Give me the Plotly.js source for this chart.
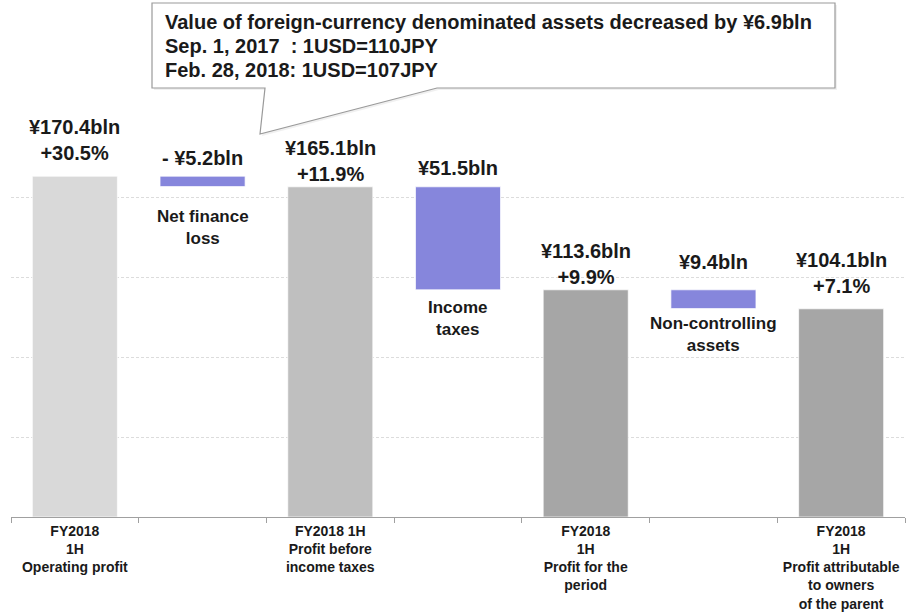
<!DOCTYPE html>
<html>
<head>
<meta charset="utf-8">
<script src="https://cdn.plot.ly/plotly-3.0.1.min.js"></script>
<style>html,body{margin:0;padding:0;background:#fff;}#chart{width:907px;height:615px;}</style>
</head>
<body>
<div id="chart"></div>
<script>
// ---- data ----
const categories = [
  "FY2018<br>1H<br>Operating profit",
  " ",
  "FY2018 1H<br>Profit before<br>income taxes",
  "  ",
  "FY2018<br>1H<br>Profit for the<br>period",
  "   ",
  "FY2018<br>1H<br>Profit attributable<br>to owners<br>of the parent"
];
const measures = ["total", "relative", "total", "relative", "total", "relative", "total"];
const amounts = [170.4, -5.2, 165.1, -51.5, 113.6, -9.4, 104.1];
const topLabels = ["¥170.4bln<br>+30.5%", "- ¥5.2bln", "¥165.1bln<br>+11.9%", "¥51.5bln", "¥113.6bln<br>+9.9%", "¥9.4bln", "¥104.1bln<br>+7.1%"];
const belowLabels = ["", "Net finance<br>loss", "", "Income<br>taxes", "", "Non-controlling<br>assets", ""];
const calloutLines = [
  "Value of foreign-currency denominated assets decreased by ¥6.9bln",
  "Sep. 1, 2017  : 1USD=110JPY",
  "Feb. 28, 2018: 1USD=107JPY"
];

// ---- styles ----
const barColors = ["#d9d9d9", "#8686dc", "#bfbfbf", "#8686dc", "#a6a6a6", "#8686dc", "#a6a6a6"];
const topShift = [10, 5, 0, 6, 0, 15, 10];
const belowShift = [0, -18, 0, -6, 0, -3, 0];
const FONT = "Liberation Sans, Arial, sans-serif";
const TXT = "#1a1a1a";

// compute waterfall geometry from data
const bases = [], heights = [], tops = [], bottoms = [];
let running = 0;
for (let i = 0; i < amounts.length; i++) {
  if (measures[i] === "total") {
    bases.push(0); heights.push(amounts[i]);
    tops.push(amounts[i]); bottoms.push(0);
    running = amounts[i];
  } else {
    const lo = running + amounts[i];
    bases.push(lo); heights.push(-amounts[i]);
    tops.push(running); bottoms.push(lo);
  }
}

const trace = {
  type: "bar",
  x: categories,
  y: heights,
  base: bases,
  marker: { color: barColors, line: { color: "rgba(255,255,255,0.7)", width: 1 } },
  hoverinfo: "skip"
};

// layout geometry helpers
const M = { l: 11, r: 2, t: 116, b: 98 };
const W = 907, H = 615;
const pw = W - M.l - M.r, ph = H - M.t - M.b;
const px = v => (v - M.l) / pw;
const py = v => (H - M.b - v) / ph;

const annotations = [];
for (let i = 0; i < categories.length; i++) {
  annotations.push({
    x: categories[i], y: tops[i], xref: "x", yref: "y",
    text: topLabels[i], showarrow: false, yanchor: "bottom", yshift: topShift[i],
    font: { family: FONT, size: 20, color: TXT, weight: "bold" }
  });
  if (belowLabels[i]) {
    annotations.push({
      x: categories[i], y: bottoms[i], xref: "x", yref: "y",
      text: belowLabels[i], showarrow: false, yanchor: "top", yshift: belowShift[i],
      font: { family: FONT, size: 17, color: TXT, weight: "bold" }
    });
  }
}
const calloutY = [22, 46, 70];
calloutLines.forEach((t, i) => {
  annotations.push({
    x: px(163), y: py(calloutY[i]), xref: "paper", yref: "paper",
    text: t, showarrow: false, xanchor: "left", yanchor: "middle",
    font: { family: FONT, size: 20, color: TXT, weight: "bold" }
  });
});

const P = (x, y) => px(x) + "," + py(y);
const calloutPath = "M" + P(152, 3) + " L" + P(835, 3) + " L" + P(835, 88) + " L" + P(437, 88) +
  " L" + P(260, 134) + " L" + P(265, 88) + " L" + P(152, 88) + " Z";
const shadowPath = "M" + P(154, 5) + " L" + P(837, 5) + " L" + P(837, 90) + " L" + P(439, 90) +
  " L" + P(262, 136) + " L" + P(267, 90) + " L" + P(154, 90) + " Z";

const layout = {
  width: W, height: H,
  margin: M,
  paper_bgcolor: "#ffffff", plot_bgcolor: "#ffffff",
  showlegend: false,
  bargap: 0.334,
  font: { family: FONT, color: TXT },
  xaxis: {
    type: "category",
    showline: true, linecolor: "#a0a0a0", linewidth: 1,
    ticks: "outside", ticklen: 5, tickcolor: "#a0a0a0", tickson: "boundaries",
    ticklabelstandoff: 1, tickangle: 0,
    showgrid: false,
    tickfont: { family: FONT, size: 14, color: TXT, weight: "bold" },
    fixedrange: true
  },
  yaxis: {
    range: [0, 200.5], dtick: 40, tick0: 0,
    showticklabels: false, zeroline: false, showline: false,
    showgrid: true, gridcolor: "#dcdcdc", gridwidth: 1, griddash: "3px,2px",
    fixedrange: true
  },
  shapes: [
    { type: "path", xref: "paper", yref: "paper", path: shadowPath,
      fillcolor: "rgba(0,0,0,0.06)", line: { width: 0 }, layer: "above" },
    { type: "path", xref: "paper", yref: "paper", path: calloutPath,
      fillcolor: "#ffffff", line: { color: "#9a9a9a", width: 1.2 }, layer: "above" }
  ],
  annotations: annotations
};

Plotly.newPlot("chart", [trace], layout, { staticPlot: true, displayModeBar: false });
</script>
</body>
</html>
